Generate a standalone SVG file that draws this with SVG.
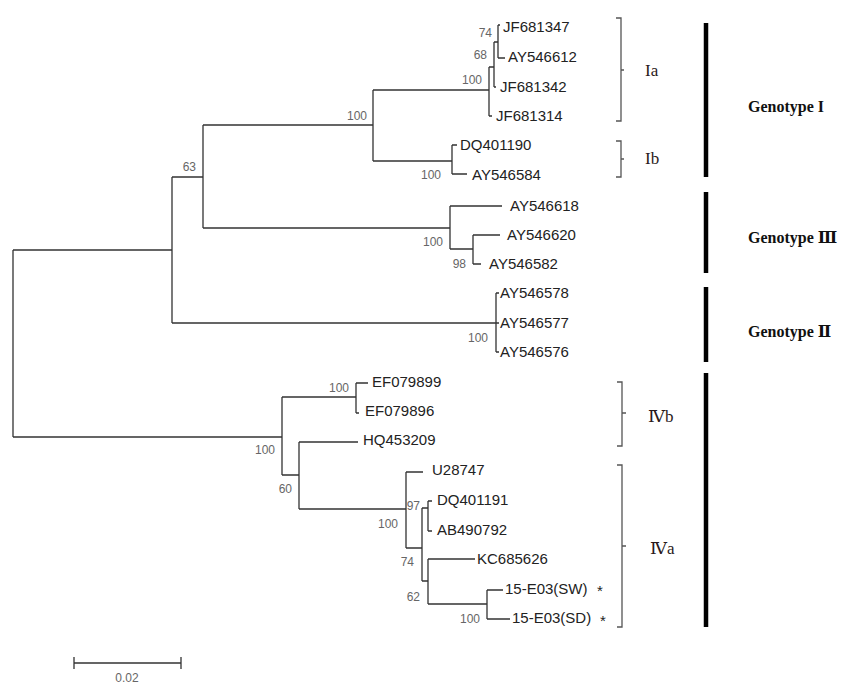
<svg xmlns="http://www.w3.org/2000/svg" width="850" height="690" viewBox="0 0 850 690">
<style>
.br{stroke:#333;stroke-width:1.3;fill:none}
.lf{font-family:"Liberation Sans",Arial,sans-serif;font-size:15px;fill:#222}
.bs{font-family:"Liberation Sans",Arial,sans-serif;font-size:12px;fill:#666;text-anchor:end}
.bk{stroke:#555;stroke-width:1.3;fill:none}
.cl{font-family:"Liberation Serif","DejaVu Serif",serif;font-size:17px;fill:#2a1a1a}
.bar{stroke:#000;stroke-width:4.5}
.gt{font-family:"Liberation Serif","DejaVu Serif",serif;font-size:16px;font-weight:bold;fill:#111}
</style>
<rect width="850" height="690" fill="#fff"/>
<g id="connectors">
<path class="br" d="M13 250V437M13 250H172M13 437H282"/>
<path class="br" d="M172 177V323M172 177H203M172 323H496"/>
<path class="br" d="M203 125V228M203 125H373M203 228H450"/>
<path class="br" d="M373 90V161M373 90H489M373 161H452"/>
<path class="br" d="M489 67V116M489 116H492M489 67H494"/>
<path class="br" d="M494 42V87M494 87H496M494 42H498"/>
<path class="br" d="M498 25V58M498 25H500M498 58H505"/>
<path class="br" d="M452 145V174M452 145H457M452 174H467"/>
<path class="br" d="M450 206V249M450 206H502M450 249H473"/>
<path class="br" d="M473 235V264M473 235H500M473 264H481"/>
<path class="br" d="M496 293V352M496 293H499M496 323H499M496 352H499"/>
<path class="br" d="M282 397V475M282 397H356M282 475H299"/>
<path class="br" d="M356 383V413M356 383H368M356 413H359"/>
<path class="br" d="M299 442V509M299 442H358M299 509H406"/>
<path class="br" d="M406 472V548M406 472H423M406 548H422"/>
<path class="br" d="M422 508V581M422 508H428M422 581H428"/>
<path class="br" d="M428 501V531M428 501H432M428 531H432"/>
<path class="br" d="M428 559V604M428 559H475M428 604H487"/>
<path class="br" d="M487 590V619M487 590H503M487 619H510"/>
</g>
<g id="leaves">
<text class="lf" x="503" y="32">JF681347</text>
<text class="lf" x="508" y="62">AY546612</text>
<text class="lf" x="500" y="92">JF681342</text>
<text class="lf" x="496" y="121">JF681314</text>
<text class="lf" x="460" y="150">DQ401190</text>
<text class="lf" x="472" y="180">AY546584</text>
<text class="lf" x="510" y="211">AY546618</text>
<text class="lf" x="507" y="240">AY546620</text>
<text class="lf" x="489" y="269">AY546582</text>
<text class="lf" x="500" y="298">AY546578</text>
<text class="lf" x="500" y="328">AY546577</text>
<text class="lf" x="500" y="357">AY546576</text>
<text class="lf" x="372" y="387">EF079899</text>
<text class="lf" x="365" y="416">EF079896</text>
<text class="lf" x="363" y="445">HQ453209</text>
<text class="lf" x="432" y="475">U28747</text>
<text class="lf" x="437" y="505">DQ401191</text>
<text class="lf" x="437" y="535">AB490792</text>
<text class="lf" x="477" y="564">KC685626</text>
<text class="lf" x="505" y="594">15-E03(SW)</text>
<text class="lf" x="512" y="623">15-E03(SD)</text>
<text class="lf" x="597" y="596" font-size="12" fill="#000">*</text>
<text class="lf" x="600" y="626" font-size="12" fill="#000">*</text>
</g>
<g id="bootstrap">
<text class="bs" x="492" y="37">74</text>
<text class="bs" x="487" y="59">68</text>
<text class="bs" x="482" y="84">100</text>
<text class="bs" x="367" y="120">100</text>
<text class="bs" x="196" y="171">63</text>
<text class="bs" x="441" y="179">100</text>
<text class="bs" x="443" y="246">100</text>
<text class="bs" x="466" y="268">98</text>
<text class="bs" x="488" y="342">100</text>
<text class="bs" x="349" y="392">100</text>
<text class="bs" x="275" y="454">100</text>
<text class="bs" x="292" y="493">60</text>
<text class="bs" x="420" y="510">97</text>
<text class="bs" x="398" y="528">100</text>
<text class="bs" x="414" y="566">74</text>
<text class="bs" x="420" y="601">62</text>
<text class="bs" x="480" y="623">100</text>
</g>
<g id="clade-Ia">
<path class="bk" d="M616 18H621V121H616M621 70H624"/>
<text class="cl" x="645" y="76">Ia</text>
</g>
<g id="clade-Ib">
<path class="bk" d="M616 141H621V177H616M621 159H624"/>
<text class="cl" x="645" y="164">Ib</text>
</g>
<g id="clade-IVb">
<path class="bk" d="M617 382H622V446H617M622 413H626"/>
<text class="cl" x="648" y="422">Ⅳb</text>
</g>
<g id="clade-IVa">
<path class="bk" d="M617 465H622V627H617M622 546H626"/>
<text class="cl" x="650" y="554">Ⅳa</text>
</g>
<g id="genotype-I">
<line class="bar" x1="706" y1="23" x2="706" y2="177"/>
<text class="gt" x="748" y="112">Genotype I</text>
</g>
<g id="genotype-III">
<line class="bar" x1="706" y1="192" x2="706" y2="273"/>
<text class="gt" x="748" y="243">Genotype Ⅲ</text>
</g>
<g id="genotype-II">
<line class="bar" x1="706" y1="287" x2="706" y2="362"/>
<text class="gt" x="748" y="337">Genotype Ⅱ</text>
</g>
<g id="genotype-IV">
<line class="bar" x1="706" y1="373" x2="706" y2="627"/>
</g>
<g id="scale">
<path class="br" d="M74 663H181M74 657V669M181 657V669"/>
<text class="bs" x="127" y="682" text-anchor="middle" style="text-anchor:middle">0.02</text>
</g>
</svg>
